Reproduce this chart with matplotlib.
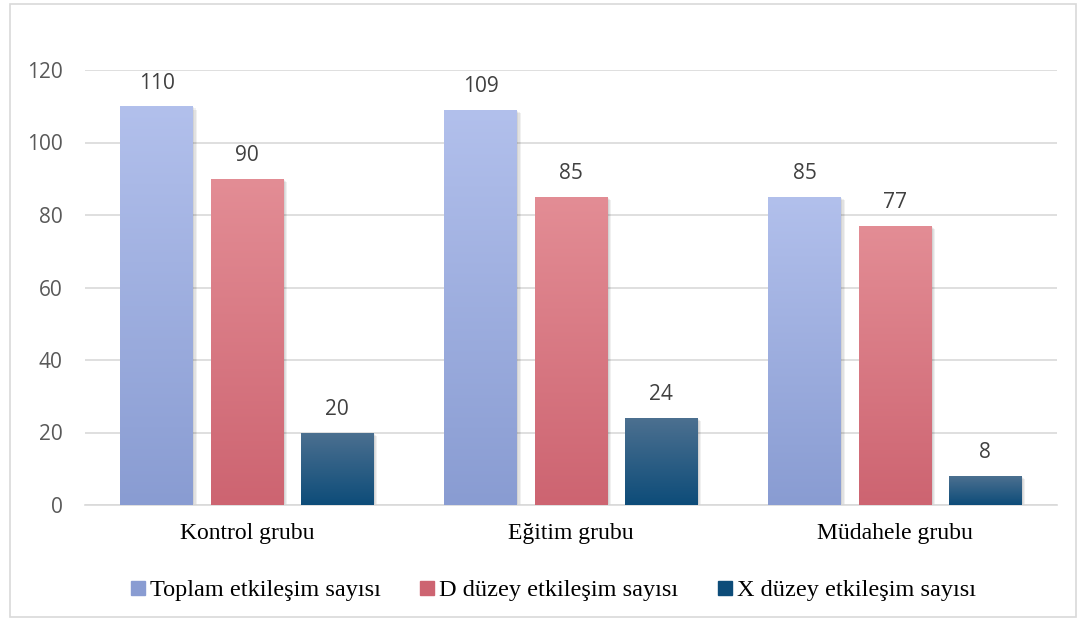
import numpy as np
import matplotlib
matplotlib.use("Agg")
import matplotlib.pyplot as plt
from matplotlib import patheffects
from matplotlib.colors import LinearSegmentedColormap
from matplotlib.lines import Line2D
from matplotlib.patches import Rectangle

groups = ["Kontrol grubu", "Eğitim grubu", "Müdahele grubu"]
series = ["Toplam etkileşim sayısı", "D düzey etkileşim sayısı", "X düzey etkileşim sayısı"]
toplam = [110, 109, 85]
d_duzey = [90, 85, 77]
x_duzey = [20, 24, 8]

# top colour, bottom colour for each series gradient
grad = [("#B2C0EC", "#899CD2"), ("#E38D95", "#CD6471"), ("#4C7090", "#0D4C79")]

fig = plt.figure(figsize=(10.82, 6.20), dpi=100)
ax = fig.add_axes([85 / 1082, 1 - 505 / 620, 972 / 1082, 435 / 620])

x = np.arange(len(groups))
width = 0.225
step = 0.278

# soft drop shadow built from a few offset layers
shadow = [patheffects.SimplePatchShadow(offset=(d, -d), shadow_rgbFace="#000000", alpha=0.06)
          for d in (0.8, 1.6, 2.4)]

for i, vals in enumerate([toplam, d_duzey, x_duzey]):
    top, bottom = grad[i]
    cmap = LinearSegmentedColormap.from_list("g%d" % i, [bottom, top])
    bars = ax.bar(x + (i - 1) * step, vals, width, facecolor="none", edgecolor="none", zorder=2)
    for b, v in zip(bars, vals):
        b.set_path_effects(shadow + [patheffects.Normal()])
        x0 = b.get_x()
        im = ax.imshow(np.linspace(0, 1, 256).reshape(-1, 1), cmap=cmap, origin="lower",
                       extent=[x0, x0 + width, 0, v], aspect="auto", zorder=3)
        im.set_clip_path(b)
        ax.annotate(str(v), (b.get_x() + width / 2, v), xytext=(0, 9), textcoords="offset points",
                    ha="center", va="bottom", fontsize=15, color="#404040", family="Open Sans")

ax.set_xlim(-0.5, 2.5)
ax.set_ylim(0, 120)
ax.set_yticks(range(0, 121, 20))
ax.set_xticks(x)
ax.set_xticklabels(groups, family="Liberation Serif", fontsize=17, color="#000000")
for lab in ax.get_yticklabels():
    lab.set_family("Open Sans")
    lab.set_fontsize(15)
    lab.set_color("#595959")
ax.tick_params(axis="y", length=0, pad=16)
ax.tick_params(axis="x", length=0, pad=13)
ax.grid(axis="y", color="#D9D9D9", lw=1.2, zorder=0)
ax.set_axisbelow(True)
for s in ["top", "right", "left"]:
    ax.spines[s].set_visible(False)
ax.spines["bottom"].set_color("#D9D9D9")
ax.spines["bottom"].set_linewidth(1.2)

handles = [Line2D([], [], marker="s", ls="none", markersize=9.5,
                  markerfacecolor=grad[i][1], markeredgecolor=grad[i][1]) for i in range(3)]
fig.legend(handles, series, loc="center", bbox_to_anchor=(552 / 1082, 1 - 590 / 620), ncol=3, frameon=False,
           prop={"family": "Liberation Serif", "size": 17.5}, handletextpad=0.1, columnspacing=1.5,
           handlelength=0.8)

# outer chart border
fig.add_artist(Rectangle((10 / 1082, 3 / 620), 1066 / 1082, 613 / 620, transform=fig.transFigure,
                         fill=False, edgecolor="#D9D9D9", lw=1.2))

fig.savefig("out.png", dpi=100)
